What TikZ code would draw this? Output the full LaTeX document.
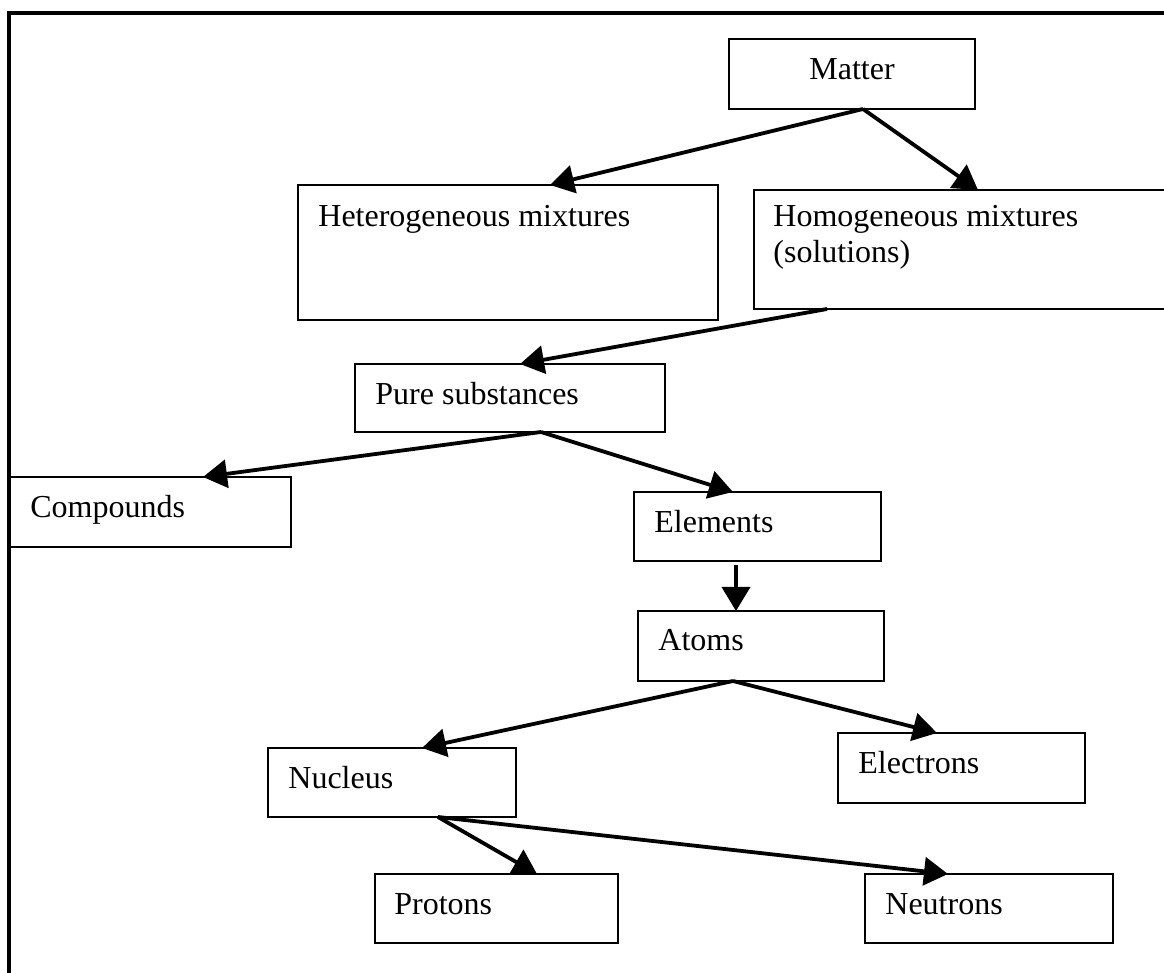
\documentclass[tikz,border=0pt]{standalone}
\usepackage{fontspec}
\setmainfont{Liberation Serif}
\usetikzlibrary{arrows.meta,fit,calc}
\begin{document}
\begin{tikzpicture}[x=0.5pt,y=-0.5pt,
  box/.style={draw, line width=1.1pt, inner sep=0pt, outer sep=0pt, rectangle},
  lbl/.style={inner sep=0pt, font=\fontsize{16}{18}\selectfont, anchor=base west, align=left},
  link/.style={line width=1.9pt, -{Triangle[length=12pt,width=14pt]}}]
\useasboundingbox (0,0) rectangle (1164,973);
\clip (0,0) rectangle (1164,973);

% outer frame
\draw[line width=2pt] (8.5,13) rectangle (1200,1010);

% concept boxes
\node[box, fit={(729,39) (975,109)}]   (matter) {};
\node[box, fit={(298,185) (718,320)}]  (het) {};
\node[box, fit={(754,190) (1200,309)}] (hom) {};
\node[box, fit={(355,364) (665,432)}]  (pure) {};
\node[box, fit={(10,477) (291,547)}]   (comp) {};
\node[box, fit={(634,492) (881,561)}]  (elem) {};
\node[box, fit={(638,611) (884,681)}]  (atoms) {};
\node[box, fit={(838,733) (1085,803)}] (elec) {};
\node[box, fit={(268,748) (516,817)}]  (nucl) {};
\node[box, fit={(375,874) (618,943)}]  (prot) {};
\node[box, fit={(865,874) (1113,943)}] (neut) {};

% labels (base anchor of a two-line label sits on its last line)
\node[lbl, anchor=base] (matter-t) at (852,80) {Matter};
\node[lbl] (het-t)   at (318,227) {Heterogeneous mixtures};
\node[lbl] (hom-t)   at (773,263) {Homogeneous mixtures\\(solutions)};
\node[lbl] (pure-t)  at (375,405) {Pure substances};
\node[lbl] (comp-t)  at (30,518)  {Compounds};
\node[lbl] (elem-t)  at (654,533) {Elements};
\node[lbl] (atoms-t) at (658,651) {Atoms};
\node[lbl] (elec-t)  at (858,774) {Electrons};
\node[lbl] (nucl-t)  at (288,788) {Nucleus};
\node[lbl] (prot-t)  at (394,914) {Protons};
\node[lbl] (neut-t)  at (885,914) {Neutrons};

% connectors
\draw[link] ($(matter.south)+(11,0)$) -- ($(het.north)+(42,0)$);
\draw[link] ($(matter.south)+(11,0)$) -- ($(hom.north west)+(224,0)$);
\draw[link] ($(hom.south west)+(73,0)$) -- ($(pure.north)+(10,0)$);
\draw[link] ($(pure.south)+(31,0)$) -- ($(comp.north)+(52.5,0)$);
\draw[link] ($(pure.south)+(31,0)$) -- ($(elem.north)+(-24.5,0)$);
\draw[link, shorten <=2pt] ($(elem.south)+(-21.5,0)$) -- ($(atoms.north)+(-25,0)$);
\draw[link] ($(atoms.south)+(-28,0)$) -- ($(nucl.north)+(30,0)$);
\draw[link] ($(atoms.south)+(-28,0)$) -- ($(elec.north)+(-24.5,0)$);
\draw[link] ($(nucl.south)+(46,0)$) -- ($(prot.north)+(40.5,0)$);
\draw[link] ($(nucl.south)+(46,0)$) -- ($(neut.north)+(-41,0)$);
\end{tikzpicture}
\end{document}
